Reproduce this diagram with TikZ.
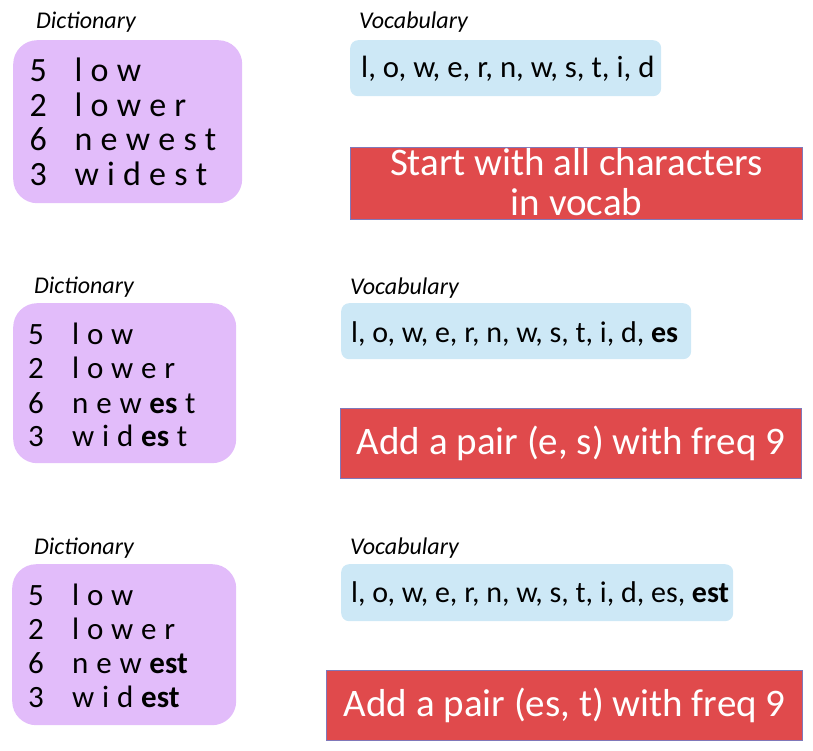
\documentclass[tikz,border=0pt]{standalone}
\usepackage{fontspec}
\setmainfont{Carlito}
\definecolor{dictfill}{RGB}{226,188,250}
\definecolor{vocfill}{RGB}{205,232,246}
\definecolor{notefill}{RGB}{224,74,76}
\definecolor{notedraw}{RGB}{128,120,185}
\newcommand\gA{\hspace{8.2pt}}
\newcommand\gB{\hspace{7.8pt}}
\begin{document}
\begin{tikzpicture}[x=1pt,y=-1pt,
  dictbox/.style={fill=dictfill, rounded corners=24pt, anchor=north west, inner sep=0},
  vocbox/.style={fill=vocfill, rounded corners=8pt, anchor=north west, inner sep=0},
  notebox/.style={fill=notefill, draw=notedraw, line width=1.2pt, anchor=north west, inner sep=0},
  notetext/.style={text=white, font=\fontsize{39}{40}\selectfont, align=center, inner sep=0},
  caption/.style={anchor=west, inner sep=0, font=\fontsize{24}{26}\selectfont\itshape},
  rowA/.style={anchor=base west, inner sep=0, font=\fontsize{34}{36}\selectfont},
  rowB/.style={anchor=base west, inner sep=0, font=\fontsize{31}{36}\selectfont},
  voctext/.style={anchor=base west, inner sep=0, font=\fontsize{30}{36}\selectfont},
  voctextA/.style={anchor=base west, inner sep=0, font=\fontsize{30.8}{36}\selectfont}]
\useasboundingbox (0,0) rectangle (813,751);

% ---------- panel 1 ----------
\node[caption] (cd1) at (36,22) {Dictionary};
\node[caption] (cv1) at (359,22) {Vocabulary};
\node[dictbox, minimum width=229, minimum height=163] (dict1) at (13,40) {};
\node[rowA] (n11) at (29.5,82) {5};
\node[rowA] (w11) at (74.5,82) {l\gA o\gA w};
\node[rowA] (n12) at (29.5,117) {2};
\node[rowA] (w12) at (74.5,117) {l\gA o\gA w\gA e\gA r};
\node[rowA] (n13) at (29.5,151) {6};
\node[rowA] (w13) at (74.5,151) {n\gA e\gA w\gA e\gA s\gA t};
\node[rowA] (n14) at (29.5,186) {3};
\node[rowA] (w14) at (74.5,186) {w\gA i\gA d\gA e\gA s\gA t};
\node[vocbox, minimum width=311, minimum height=56] (voc1) at (350,40) {};
\node[voctextA] (vt1) at (361,78) {l, o, w, e, r, n, w, s, t, i, d};
\node[notebox, minimum width=452, minimum height=72] (note1) at (350,147) {};
\node[notetext] (nt1) at ([yshift=1]note1.center) {Start with all characters\\in vocab};

% ---------- panel 2 ----------
\node[caption] (cd2) at (34,287) {Dictionary};
\node[caption] (cv2) at (350,288) {Vocabulary};
\node[dictbox, minimum width=223, minimum height=160] (dict2) at (13,303) {};
\node[rowB] (n21) at (28,344) {5};
\node[rowB] (w21) at (72,344) {l\gB o\gB w};
\node[rowB] (n22) at (28,378) {2};
\node[rowB] (w22) at (72,378) {l\gB o\gB w\gB e\gB r};
\node[rowB] (n23) at (28,413) {6};
\node[rowB] (w23) at (72,413) {n\gB e\gB w\gB \textbf{es}\gB t};
\node[rowB] (n24) at (28,446) {3};
\node[rowB] (w24) at (72,446) {w\gB i\gB d\gB \textbf{es}\gB t};
\node[vocbox, minimum width=350, minimum height=56] (voc2) at (341,303) {};
\node[voctext] (vt2) at (351,342) {l, o, w, e, r, n, w, s, t, i, d, \textbf{es}};
\node[notebox, minimum width=461, minimum height=70] (note2) at (340,408) {};
\node[notetext] (nt2) at (note2.center) {Add a pair (e, s) with freq 9};

% ---------- panel 3 ----------
\node[caption] (cd3) at (34,548) {Dictionary};
\node[caption] (cv3) at (350,548) {Vocabulary};
\node[dictbox, minimum width=224, minimum height=161] (dict3) at (12,564) {};
\node[rowB] (n31) at (28,605) {5};
\node[rowB] (w31) at (72,605) {l\gB o\gB w};
\node[rowB] (n32) at (28,639) {2};
\node[rowB] (w32) at (72,639) {l\gB o\gB w\gB e\gB r};
\node[rowB] (n33) at (28,673) {6};
\node[rowB] (w33) at (72,673) {n\gB e\gB w\gB \textbf{est}};
\node[rowB] (n34) at (28,707) {3};
\node[rowB] (w34) at (72,707) {w\gB i\gB d\gB \textbf{est}};
\node[vocbox, minimum width=392, minimum height=57] (voc3) at (341,564) {};
\node[voctext] (vt3) at (351,602) {l, o, w, e, r, n, w, s, t, i, d, es, \textbf{est}};
\node[notebox, minimum width=476, minimum height=70] (note3) at (326,670) {};
\node[notetext] (nt3) at (note3.center) {Add a pair (es, t) with freq 9};
\end{tikzpicture}
\end{document}
